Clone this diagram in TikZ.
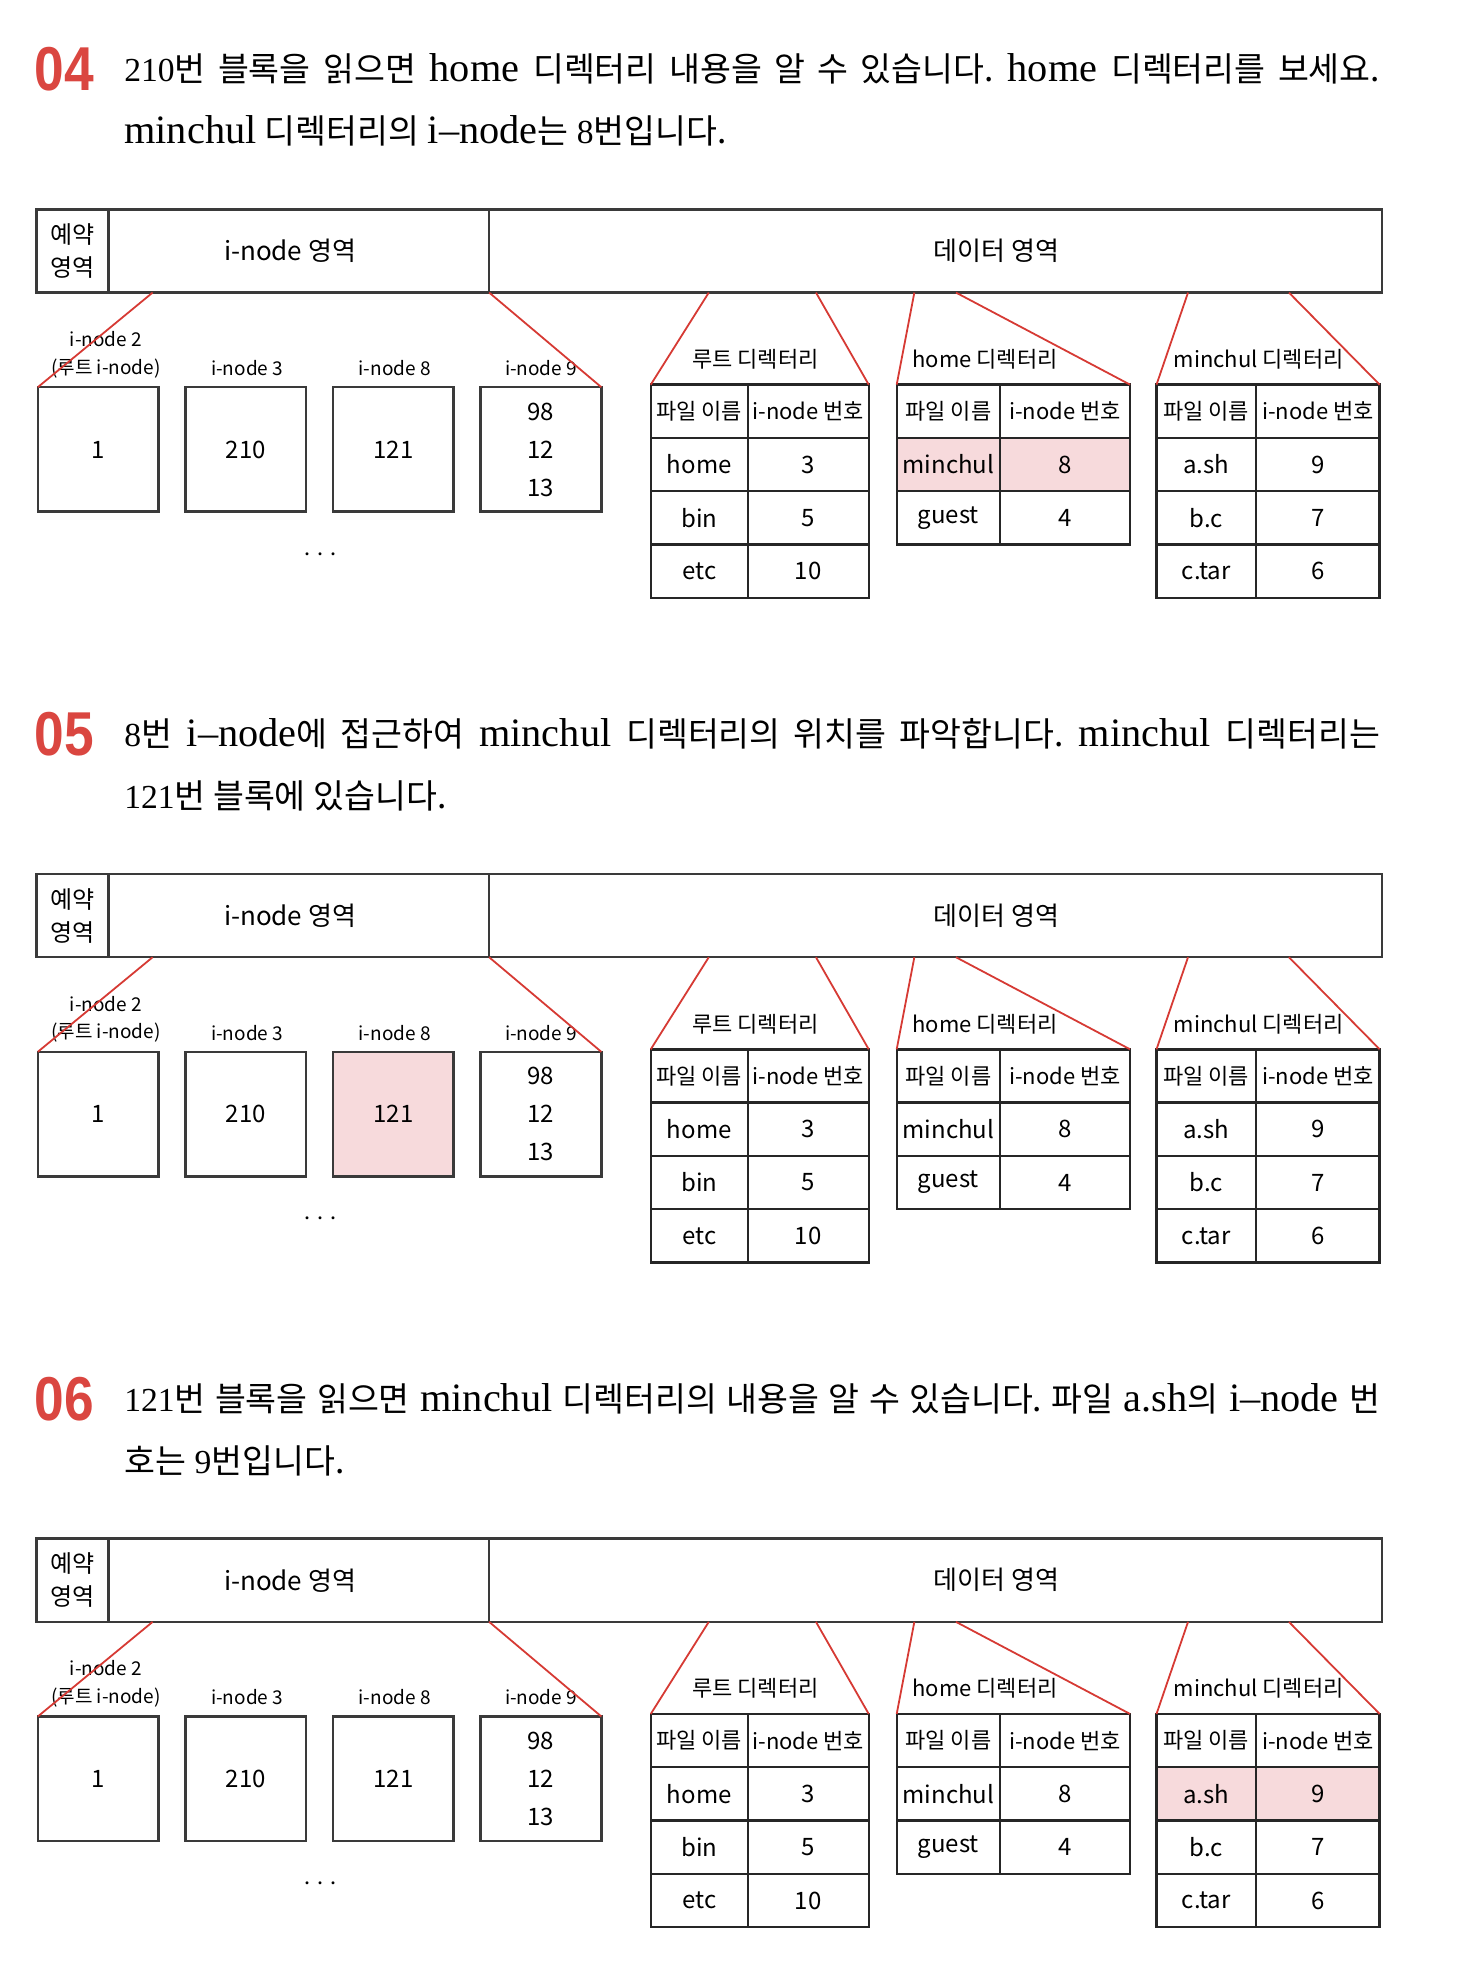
\documentclass[tikz,border=0pt]{standalone}
\usepackage{fontspec}
\setmainfont{Liberation Serif}
\newfontfamily\krfont{Noto Sans CJK KR}
\newfontfamily\numfont{Liberation Sans}
\newfontfamily\wordfont{Liberation Serif}[Scale=1.2, Ligatures=TeX]
\usepackage{xcolor}
\usepackage{tikz}
\usetikzlibrary{positioning}
\definecolor{secred}{RGB}{218,70,64}
\definecolor{linered}{RGB}{214,58,52}
\definecolor{hlpink}{RGB}{247,218,220}
\definecolor{boxgray}{RGB}{58,58,58}
\frenchspacing
%%%%%%% font sizes
\newcommand\hangul[1]{{\krfont #1}}
\newcommand\enword[1]{{\wordfont #1}}
\newcommand\txtheading{\fontsize{16.8}{20}\selectfont}
\newcommand\txtsecnum{\numfont\bfseries\fontsize{31}{31}\selectfont}
\newcommand\txtbar{\krfont\fontsize{13}{16}\selectfont}
\newcommand\txtrsv{\krfont\fontsize{12}{16.5}\selectfont}
\newcommand\txtlabel{\krfont\fontsize{9.5}{11}\selectfont}
\newcommand\txttitle{\krfont\fontsize{11}{13}\selectfont}
\newcommand\txtcell{\krfont\fontsize{12}{19}\selectfont}
\newcommand\txtheadcell{\krfont\fontsize{11}{13}\selectfont}
\tikzset{
%%%%%%%%%%  heading styles
secnum/.style={anchor=base west, inner sep=0pt, text=secred, font=\txtsecnum},
headtext/.style={anchor=base west, inner sep=0pt, font=\txtheading},
%%%%%%%%%%  disk layout bar
barbox/.style={draw=boxgray, line width=1.3pt, minimum height=41.6pt,
               inner sep=0pt, outer sep=0pt, anchor=north west},
bartext/.style={inner sep=0pt, font=\txtbar},
%%%%%%%%%%  i-node blocks
ibox/.style={draw=boxgray, line width=1.3pt, minimum width=60.4pt,
             minimum height=62.3pt, inner sep=0pt, outer sep=0pt,
             anchor=north west, align=center, font=\txtcell},
ilabel/.style={inner sep=0pt, font=\txtlabel},
%%%%%%%%%%  directory tables
tcell/.style={draw=black!85, line width=1.2pt, minimum height=26.65pt,
              inner sep=0pt, outer sep=0pt, anchor=north west, font=\txtcell},
rootL/.style={tcell, minimum width=48.5pt},
rootR/.style={tcell, minimum width=60.5pt},
homeL/.style={tcell, minimum width=51.7pt},
homeR/.style={tcell, minimum width=65pt},
minL/.style={tcell, minimum width=49.8pt},
minR/.style={tcell, minimum width=61.8pt},
headcell/.style={font=\txtheadcell},
dtitle/.style={inner sep=0pt, font=\txttitle},
hilite/.style={fill=hlpink},
%%%%%%%%%%  red zoom lines
zoomline/.style={draw=linered, line width=0.9pt}
}

\begin{document}
\begin{tikzpicture}[x=0.6307pt, y=-0.6307pt, line width=0.8pt]
\useasboundingbox (0,0) rectangle (1165.5,1566.8);
%%%%%%%%%%%%%%%%%%%%%%% step 04
\begin{scope}[shift={(0,0)}]
%%heading
\node[secnum] (num) at (27,72) {\scalebox{0.86}[1]{04}};
\node[headtext] (line1) at (98,65) {\makebox[628pt][s]{210\hangul{번 블록을 읽으면} \enword{home} \hangul{디렉터리 내용을 알 수 있습니다.} \enword{home} \hangul{디렉터리를 보세요.}}};
\node[headtext] (line2) at (98,114) {\enword{minchul} \hangul{디렉터리의} \enword{i--node}\hangul{는} 8\hangul{번입니다.}};
%%disk layout bar
\node[barbox, minimum width=35.9pt, align=center, font=\txtrsv] (rsv) at (29,166) {예약\\영역};
\node[barbox, minimum width=190.4pt, right=0pt of rsv] (ina) {};
\node[barbox, minimum width=446.6pt, right=0pt of ina] (dta) {};
\node[bartext] (inat) at (230,199) {i-node 영역};
\node[bartext] (dtat) at (790,199) {데이터 영역};
\coordinate (ia) at (121,232);
\coordinate (da1) at (562,232);
\coordinate (da2) at (647,232);
\coordinate (da3) at (725,232);
\coordinate (da4) at (758,232);
\coordinate (da5) at (942,232);
\coordinate (da6) at (1022,232);
%%i-node blocks
\node[ibox] (b1) at (30,307) {1};
\node[ibox, right=13.4pt of b1] (b2) {210};
\node[ibox, right=13.4pt of b2] (b3) {121};
\node[ibox, right=13.4pt of b3] (b4) {98\\12\\13};
\node[ilabel] (l1a) at (84,269) {i-node 2};
\node[ilabel] (l1b) at (84,292) {(루트 i-node)};
\node[ilabel] (l2) at (196,292) {i-node 3};
\node[ilabel] (l3) at (313,292) {i-node 8};
\node[ilabel] (l4) at (429,292) {i-node 9};
\node (dots) at (254,440) {\fontsize{14}{14}\selectfont$\cdots$};
%%root directory
\node[dtitle] (rtt) at (599,285) {루트 디렉터리};
\node[rootL, headcell] (r0a) at (516,305) {파일 이름};
\node[rootR, headcell, right=0pt of r0a] (r0b) {i-node 번호};
\node[rootL, below=0pt of r0a] (r1a) {home};
\node[rootR, right=0pt of r1a] (r1b) {3};
\node[rootL, below=0pt of r1a] (r2a) {bin};
\node[rootR, right=0pt of r2a] (r2b) {5};
\node[rootL, below=0pt of r2a] (r3a) {etc};
\node[rootR, right=0pt of r3a] (r3b) {10};
%%home directory
\node[dtitle] (htt) at (781,285) {home 디렉터리};
\node[homeL, headcell] (h0a) at (711,305) {파일 이름};
\node[homeR, headcell, right=0pt of h0a] (h0b) {i-node 번호};
\node[homeL, hilite, below=0pt of h0a] (h1a) {minchul};
\node[homeR, hilite, right=0pt of h1a] (h1b) {8};
\node[homeL, below=0pt of h1a] (h2a) {guest};
\node[homeR, right=0pt of h2a] (h2b) {4};
%%minchul directory
\node[dtitle] (mtt) at (998,285) {minchul 디렉터리};
\node[minL, headcell] (m0a) at (917,305) {파일 이름};
\node[minR, headcell, right=0pt of m0a] (m0b) {i-node 번호};
\node[minL, below=0pt of m0a] (m1a) {a.sh};
\node[minR, right=0pt of m1a] (m1b) {9};
\node[minL, below=0pt of m1a] (m2a) {b.c};
\node[minR, right=0pt of m2a] (m2b) {7};
\node[minL, below=0pt of m2a] (m3a) {c.tar};
\node[minR, right=0pt of m3a] (m3b) {6};
%%zoom lines
\draw[zoomline] (ia) -- (b1.north west);
\draw[zoomline] (ina.south east) -- (b4.north east);
\draw[zoomline] (da1) -- (r0a.north west);
\draw[zoomline] (da2) -- (r0b.north east);
\draw[zoomline] (da3) -- (h0a.north west);
\draw[zoomline] (da4) -- (h0b.north east);
\draw[zoomline] (da5) -- (m0a.north west);
\draw[zoomline] (da6) -- (m0b.north east);
\end{scope}
%%%%%%%%%%%%%%%%%%%%%%% step 05
\begin{scope}[shift={(0,527)}]
%%heading
\node[secnum] (num) at (27,72) {\scalebox{0.86}[1]{05}};
\node[headtext] (line1) at (98,65) {\makebox[628pt][s]{8\hangul{번} \enword{i--node}\hangul{에 접근하여} \enword{minchul} \hangul{디렉터리의 위치를 파악합니다.} \enword{minchul} \hangul{디렉터리는}}};
\node[headtext] (line2) at (98,114) {121\hangul{번 블록에 있습니다.}};
%%disk layout bar
\node[barbox, minimum width=35.9pt, align=center, font=\txtrsv] (rsv) at (29,166) {예약\\영역};
\node[barbox, minimum width=190.4pt, right=0pt of rsv] (ina) {};
\node[barbox, minimum width=446.6pt, right=0pt of ina] (dta) {};
\node[bartext] (inat) at (230,199) {i-node 영역};
\node[bartext] (dtat) at (790,199) {데이터 영역};
\coordinate (ia) at (121,232);
\coordinate (da1) at (562,232);
\coordinate (da2) at (647,232);
\coordinate (da3) at (725,232);
\coordinate (da4) at (758,232);
\coordinate (da5) at (942,232);
\coordinate (da6) at (1022,232);
%%i-node blocks
\node[ibox] (b1) at (30,307) {1};
\node[ibox, right=13.4pt of b1] (b2) {210};
\node[ibox, hilite, right=13.4pt of b2] (b3) {121};
\node[ibox, right=13.4pt of b3] (b4) {98\\12\\13};
\node[ilabel] (l1a) at (84,269) {i-node 2};
\node[ilabel] (l1b) at (84,292) {(루트 i-node)};
\node[ilabel] (l2) at (196,292) {i-node 3};
\node[ilabel] (l3) at (313,292) {i-node 8};
\node[ilabel] (l4) at (429,292) {i-node 9};
\node (dots) at (254,440) {\fontsize{14}{14}\selectfont$\cdots$};
%%root directory
\node[dtitle] (rtt) at (599,285) {루트 디렉터리};
\node[rootL, headcell] (r0a) at (516,305) {파일 이름};
\node[rootR, headcell, right=0pt of r0a] (r0b) {i-node 번호};
\node[rootL, below=0pt of r0a] (r1a) {home};
\node[rootR, right=0pt of r1a] (r1b) {3};
\node[rootL, below=0pt of r1a] (r2a) {bin};
\node[rootR, right=0pt of r2a] (r2b) {5};
\node[rootL, below=0pt of r2a] (r3a) {etc};
\node[rootR, right=0pt of r3a] (r3b) {10};
%%home directory
\node[dtitle] (htt) at (781,285) {home 디렉터리};
\node[homeL, headcell] (h0a) at (711,305) {파일 이름};
\node[homeR, headcell, right=0pt of h0a] (h0b) {i-node 번호};
\node[homeL, below=0pt of h0a] (h1a) {minchul};
\node[homeR, right=0pt of h1a] (h1b) {8};
\node[homeL, below=0pt of h1a] (h2a) {guest};
\node[homeR, right=0pt of h2a] (h2b) {4};
%%minchul directory
\node[dtitle] (mtt) at (998,285) {minchul 디렉터리};
\node[minL, headcell] (m0a) at (917,305) {파일 이름};
\node[minR, headcell, right=0pt of m0a] (m0b) {i-node 번호};
\node[minL, below=0pt of m0a] (m1a) {a.sh};
\node[minR, right=0pt of m1a] (m1b) {9};
\node[minL, below=0pt of m1a] (m2a) {b.c};
\node[minR, right=0pt of m2a] (m2b) {7};
\node[minL, below=0pt of m2a] (m3a) {c.tar};
\node[minR, right=0pt of m3a] (m3b) {6};
%%zoom lines
\draw[zoomline] (ia) -- (b1.north west);
\draw[zoomline] (ina.south east) -- (b4.north east);
\draw[zoomline] (da1) -- (r0a.north west);
\draw[zoomline] (da2) -- (r0b.north east);
\draw[zoomline] (da3) -- (h0a.north west);
\draw[zoomline] (da4) -- (h0b.north east);
\draw[zoomline] (da5) -- (m0a.north west);
\draw[zoomline] (da6) -- (m0b.north east);
\end{scope}
%%%%%%%%%%%%%%%%%%%%%%% step 06
\begin{scope}[shift={(0,1054)}]
%%heading
\node[secnum] (num) at (27,72) {\scalebox{0.86}[1]{06}};
\node[headtext] (line1) at (98,65) {\makebox[628pt][s]{121\hangul{번 블록을 읽으면} \enword{minchul} \hangul{디렉터리의 내용을 알 수 있습니다. 파일} \enword{a.sh}\hangul{의} \enword{i--node} \hangul{번}}};
\node[headtext] (line2) at (98,114) {\hangul{호는} 9\hangul{번입니다.}};
%%disk layout bar
\node[barbox, minimum width=35.9pt, align=center, font=\txtrsv] (rsv) at (29,166) {예약\\영역};
\node[barbox, minimum width=190.4pt, right=0pt of rsv] (ina) {};
\node[barbox, minimum width=446.6pt, right=0pt of ina] (dta) {};
\node[bartext] (inat) at (230,199) {i-node 영역};
\node[bartext] (dtat) at (790,199) {데이터 영역};
\coordinate (ia) at (121,232);
\coordinate (da1) at (562,232);
\coordinate (da2) at (647,232);
\coordinate (da3) at (725,232);
\coordinate (da4) at (758,232);
\coordinate (da5) at (942,232);
\coordinate (da6) at (1022,232);
%%i-node blocks
\node[ibox] (b1) at (30,307) {1};
\node[ibox, right=13.4pt of b1] (b2) {210};
\node[ibox, right=13.4pt of b2] (b3) {121};
\node[ibox, right=13.4pt of b3] (b4) {98\\12\\13};
\node[ilabel] (l1a) at (84,269) {i-node 2};
\node[ilabel] (l1b) at (84,292) {(루트 i-node)};
\node[ilabel] (l2) at (196,292) {i-node 3};
\node[ilabel] (l3) at (313,292) {i-node 8};
\node[ilabel] (l4) at (429,292) {i-node 9};
\node (dots) at (254,440) {\fontsize{14}{14}\selectfont$\cdots$};
%%root directory
\node[dtitle] (rtt) at (599,285) {루트 디렉터리};
\node[rootL, headcell] (r0a) at (516,305) {파일 이름};
\node[rootR, headcell, right=0pt of r0a] (r0b) {i-node 번호};
\node[rootL, below=0pt of r0a] (r1a) {home};
\node[rootR, right=0pt of r1a] (r1b) {3};
\node[rootL, below=0pt of r1a] (r2a) {bin};
\node[rootR, right=0pt of r2a] (r2b) {5};
\node[rootL, below=0pt of r2a] (r3a) {etc};
\node[rootR, right=0pt of r3a] (r3b) {10};
%%home directory
\node[dtitle] (htt) at (781,285) {home 디렉터리};
\node[homeL, headcell] (h0a) at (711,305) {파일 이름};
\node[homeR, headcell, right=0pt of h0a] (h0b) {i-node 번호};
\node[homeL, below=0pt of h0a] (h1a) {minchul};
\node[homeR, right=0pt of h1a] (h1b) {8};
\node[homeL, below=0pt of h1a] (h2a) {guest};
\node[homeR, right=0pt of h2a] (h2b) {4};
%%minchul directory
\node[dtitle] (mtt) at (998,285) {minchul 디렉터리};
\node[minL, headcell] (m0a) at (917,305) {파일 이름};
\node[minR, headcell, right=0pt of m0a] (m0b) {i-node 번호};
\node[minL, hilite, below=0pt of m0a] (m1a) {a.sh};
\node[minR, hilite, right=0pt of m1a] (m1b) {9};
\node[minL, below=0pt of m1a] (m2a) {b.c};
\node[minR, right=0pt of m2a] (m2b) {7};
\node[minL, below=0pt of m2a] (m3a) {c.tar};
\node[minR, right=0pt of m3a] (m3b) {6};
%%zoom lines
\draw[zoomline] (ia) -- (b1.north west);
\draw[zoomline] (ina.south east) -- (b4.north east);
\draw[zoomline] (da1) -- (r0a.north west);
\draw[zoomline] (da2) -- (r0b.north east);
\draw[zoomline] (da3) -- (h0a.north west);
\draw[zoomline] (da4) -- (h0b.north east);
\draw[zoomline] (da5) -- (m0a.north west);
\draw[zoomline] (da6) -- (m0b.north east);
\end{scope}
\end{tikzpicture}
\end{document}
